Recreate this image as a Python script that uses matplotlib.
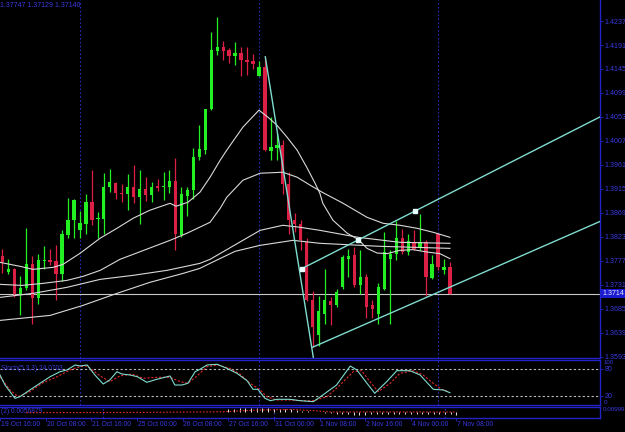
import matplotlib
matplotlib.use('Agg')
import matplotlib.pyplot as plt
import matplotlib.transforms as mtransforms
import numpy as np

plt.rcParams['font.family'] = ['Liberation Sans', 'DejaVu Sans']

# ---------------- data (H4 bars, bar 0 = 19 Oct 20:00) ----------------
opens = [1.37854, 1.37552, 1.37617, 1.37123, 1.37252, 1.37700, 1.37060, 1.37767, 1.37777, 1.37763,
         1.37508, 1.38257, 1.38546, 1.38367, 1.38469, 1.38897, 1.38574, 1.38578, 1.39186, 1.39270,
         1.39070, 1.39059, 1.39186, 1.38993, 1.39155, 1.39040, 1.39205, 1.39193, 1.39186, 1.39301,
         1.38257, 1.39013, 1.39136, 1.39751, 1.39891, 1.40673, 1.41800, 1.41876, 1.41813, 1.41698,
         1.41761, 1.41621, 1.41602, 1.41319, 1.41492, 1.39878, 1.39924, 1.39987, 1.39251, 1.38559,
         1.38482, 1.38129, 1.37008, 1.36335, 1.36752, 1.36995, 1.36912, 1.37264, 1.37810, 1.37873,
         1.37296, 1.37456, 1.36912, 1.36752, 1.37233, 1.37810, 1.37906, 1.38213, 1.37936, 1.38129,
         1.38021, 1.38129, 1.37444, 1.38277, 1.37598, 1.37648]
highs = [1.38002, 1.37810, 1.37637, 1.37469, 1.38405, 1.37854, 1.37892, 1.38046, 1.38002, 1.38079,
         1.38367, 1.38982, 1.38963, 1.38724, 1.39059, 1.39520, 1.38705, 1.39462, 1.39539, 1.39282,
         1.39238, 1.39430, 1.39603, 1.39520, 1.39378, 1.39282, 1.39347, 1.39474, 1.39507, 1.39732,
         1.39186, 1.39186, 1.39935, 1.40372, 1.40673, 1.42165, 1.42453, 1.41992, 1.41846, 1.41961,
         1.41865, 1.41876, 1.41730, 1.41607, 1.41684, 1.40520, 1.40224, 1.40083, 1.39474, 1.38686,
         1.38546, 1.38205, 1.37181, 1.37085, 1.37617, 1.37071, 1.37233, 1.37873, 1.38002, 1.38032,
         1.37969, 1.37521, 1.37008, 1.37335, 1.38321, 1.37969, 1.38532, 1.38386, 1.38290, 1.38353,
         1.38674, 1.38161, 1.37873, 1.38290, 1.37810, 1.37747]
lows = [1.37527, 1.37508, 1.37071, 1.36720, 1.37200, 1.36560, 1.36931, 1.37617, 1.37681, 1.37022,
        1.37379, 1.38213, 1.38213, 1.38213, 1.38290, 1.38450, 1.38213, 1.38277, 1.39090, 1.38963,
        1.38897, 1.38751, 1.38878, 1.38469, 1.38917, 1.38897, 1.39103, 1.38944, 1.39070, 1.37969,
        1.38225, 1.38623, 1.38963, 1.39712, 1.39814, 1.40660, 1.41717, 1.41621, 1.41569, 1.41525,
        1.41313, 1.41332, 1.41442, 1.41313, 1.39872, 1.39699, 1.39699, 1.39045, 1.38277, 1.38321,
        1.37969, 1.36999, 1.36105, 1.36124, 1.36560, 1.36528, 1.36879, 1.37233, 1.37456, 1.37264,
        1.37137, 1.36662, 1.36662, 1.36560, 1.37200, 1.36560, 1.37777, 1.37906, 1.37873, 1.37969,
        1.37969, 1.37085, 1.37425, 1.37585, 1.37521, 1.37129]
closes = [1.37744, 1.37617, 1.37123, 1.37252, 1.37700, 1.37060, 1.37777, 1.37777, 1.37744, 1.37508,
          1.38277, 1.38559, 1.38944, 1.38494, 1.38897, 1.38559, 1.38584, 1.39193, 1.39276, 1.39070,
          1.39051, 1.39186, 1.38993, 1.39155, 1.39040, 1.39186, 1.39174, 1.39199, 1.39301, 1.38277,
          1.39045, 1.39136, 1.39762, 1.39905, 1.40673, 1.41813, 1.41876, 1.41800, 1.41698, 1.41761,
          1.41621, 1.41582, 1.41538, 1.41480, 1.39891, 1.39943, 1.39987, 1.39251, 1.38546, 1.38469,
          1.38161, 1.37008, 1.36489, 1.36802, 1.37008, 1.36912, 1.37168, 1.37840, 1.37854, 1.37296,
          1.37456, 1.36879, 1.36835, 1.37264, 1.37936, 1.37892, 1.38213, 1.37936, 1.38148, 1.38002,
          1.38129, 1.37456, 1.37700, 1.37648, 1.37656, 1.37140]

# moving averages (at sample bars)
ma1_bars = [-0.4, 2.95, 5.13, 8.48, 10.16, 13.0, 16.36, 19.2, 21.9, 24.7, 28.1, 29.1, 31.1, 33.1, 34.8,
            36.5, 37.6, 40.3, 43.0, 44.5, 46.0, 47.7, 49.4, 51.0, 52.4, 53.2, 53.7, 55.4, 57.8, 59.6,
            61.1, 62.8, 64.5, 66.6, 68.8, 71.2, 73.3, 75.0]
ma1_vals = [1.37738, 1.37662, 1.37604, 1.37642, 1.37700, 1.37911, 1.38200, 1.38392, 1.38584, 1.38738,
            1.38872, 1.38815, 1.38892, 1.39084, 1.39372, 1.39699, 1.39891, 1.40333, 1.40660, 1.40525,
            1.40372, 1.40141, 1.39891, 1.39564, 1.39257, 1.39065, 1.38872, 1.38546, 1.38296, 1.38180,
            1.38007, 1.37917, 1.37906, 1.37969, 1.37982, 1.37936, 1.37906, 1.37810]
ma2_bars = [-0.4, 3.28, 6.8, 10.8, 13.5, 16.4, 19.7, 28.1, 30.9, 34.8, 36.5, 37.6, 40.3, 43.2, 47.0,
            49.4, 51.6, 53.6, 57.1, 61.1, 63.8, 66.6, 69.5, 72.2, 75.0]
ma2_vals = [1.37316, 1.37296, 1.37335, 1.37392, 1.37469, 1.37585, 1.37796, 1.38161, 1.38296, 1.38507,
            1.38776, 1.38988, 1.39314, 1.39449, 1.39468, 1.39372, 1.39218, 1.39084, 1.38872, 1.38603,
            1.38488, 1.38450, 1.38392, 1.38315, 1.38219]
ma3_bars = [-0.4, 5.13, 10.8, 16.4, 21.9, 27.6, 33.1, 34.8, 40.3, 43.2, 47.0, 49.9, 53.2, 59.6, 66.6, 75.0]
ma3_vals = [1.37066, 1.37143, 1.37258, 1.37412, 1.37489, 1.37585, 1.37719, 1.37796, 1.38161, 1.38353,
            1.38450, 1.38411, 1.38353, 1.38219, 1.38123, 1.38104]
ma4_bars = [-0.4, 8.0, 13.5, 19.2, 24.7, 30.3, 33.1, 34.8, 39.0, 43.2, 48.7, 53.2, 63.3, 75.0]
ma4_vals = [1.36624, 1.36720, 1.36912, 1.37143, 1.37354, 1.37527, 1.37623, 1.37719, 1.37950, 1.38065,
            1.38161, 1.38104, 1.38046, 1.38007]

# drawn objects (trend lines)
steep_bars = [44.06, 52.1]
steep_prices = [1.41684, 1.35918]
upper_bars = [50.16, 100.2]
upper_prices = [1.37617, 1.40533]
anchor_bars = [50.16, 59.64, 69.15]
anchor_prices = [1.37617, 1.38175, 1.38724]
lower_bars = [52.0, 100.2]
lower_prices = [1.36110, 1.38526]
bid_price = 1.3714

# stochastic
stoch_k_bars = [-0.4, 0.44, 2.1, 2.95, 4.6, 6.3, 8.0, 9.65, 10.8, 12.2, 13.0, 14.2, 15.5, 16.9, 18.0,
                19.2, 20.0, 21.4, 22.6, 24.2, 25.9, 28.1, 28.9, 30.1, 31.1, 32.3, 33.1, 34.3, 36.0,
                37.6, 39.3, 41.0, 42.0, 42.8, 44.0, 44.9, 46.0, 48.2, 49.9, 52.1, 53.7, 56.0, 58.3,
                59.4, 61.1, 62.4, 64.4, 66.1, 68.3, 70.0, 72.2, 73.9, 75.0]
stoch_k = [66.5, 44.0, 14.2, 17.8, 32.8, 47.9, 62.7, 73.9, 77.8, 89.0, 86.7, 89.0, 66.5, 46.3, 55.3,
           73.9, 68.8, 66.5, 62.7, 50.1, 56.9, 64.3, 44.0, 44.0, 47.9, 73.9, 79.3, 89.0, 90.6,
           81.6, 70.3, 53.7, 34.4, 34.4, 14.2, 8.8, 11.9, 11.9, 8.8, 6.5, 21.6, 44.0, 86.7,
           77.8, 47.9, 25.4, 51.5, 76.2, 76.2, 66.5, 34.4, 32.8, 26.7]
stoch_d_bars = [-0.4, 1.3, 2.6, 4.6, 6.8, 9.2, 11.3, 13.0, 14.2, 16.4, 18.0, 19.7, 21.7, 23.6, 25.9,
                28.1, 29.8, 31.1, 32.6, 34.3, 36.0, 38.1, 39.8, 41.5, 43.2, 44.3, 46.0, 48.2, 49.9,
                52.1, 54.4, 56.6, 58.8, 60.2, 61.6, 63.0, 65.0, 66.6, 68.9, 70.5, 72.2, 73.6, 74.7]
stoch_d = [62.7, 32.8, 17.8, 29.0, 49.2, 62.7, 77.8, 85.2, 86.7, 64.3, 51.5, 64.3, 68.8, 59.1, 61.3,
           61.3, 51.5, 47.9, 64.3, 85.2, 89.0, 81.6, 68.8, 47.9, 32.8, 17.8, 10.3, 10.3, 8.8,
           8.8, 17.8, 44.0, 73.9, 76.2, 51.5, 29.0, 47.9, 70.3, 76.2, 66.5, 47.9, 34.4, 29.0]

# oscillator in the bottom strip
osc_hist = [0.0008] * 35 + [0.0060, 0.0066, 0.0070, 0.0072, 0.0072, 0.0071, 0.0070, 0.0068, 0.0066,
            0.0060, 0.0055, 0.0050, 0.0040, 0.0030, 0.0020, 0.0010, 0.0000, -0.0010] + \
           [-0.0020, -0.0028, -0.0034, -0.0038, -0.0040, -0.0040, -0.0040, -0.0038, -0.0036, -0.0035,
            -0.0035, -0.0036, -0.0037, -0.0038, -0.0038, -0.0038, -0.0037, -0.0036, -0.0036, -0.0037,
            -0.0038, -0.0039, -0.0040]
osc_sig_bars = [-0.4, 20.0, 34.0, 40.0, 46.0, 50.0, 53.0, 60.0, 75.0]
osc_sig = [-0.0007, -0.0002, 0.0010, 0.0040, 0.0050, 0.0030, 0.0005, 0.0008, 0.0004]

price_ticks = [1.4237, 1.4191, 1.4145, 1.4099, 1.4053, 1.4007, 1.3961, 1.3915, 1.3869,
               1.3823, 1.3777, 1.3731, 1.3685, 1.3639, 1.3593]
time_label_bars = [-5, 3, 11, 19, 27, 35, 43, 51, 59, 67, 75]
time_labels = ['19 Oct 16:00', '20 Oct 08:00', '21 Oct 16:00', '25 Oct 00:00', '26 Oct 08:00',
               '27 Oct 16:00', '31 Oct 00:00', '1 Nov 08:00', '2 Nov 16:00', '4 Nov 00:00',
               '7 Nov 08:00']
week_sep_bars = [13, 43, 73]

# ---------------- style ----------------
BG = 'black'
BLUE = '#2323c8'
TXT = '#3a3ae0'
BULL = '#22f022'
BEAR = '#dc1f45'
MA_COL = '#d9d9d9'
CH_COL = '#7fdccf'
FS = 5.1

W, H = 625, 432
fig = plt.figure(figsize=(W / 100, H / 100), dpi=100, facecolor=BG)


def rect(x0, y0, x1, y1):
    return [x0 / W, (H - y1) / H, (x1 - x0) / W, (y1 - y0) / H]


ax = fig.add_axes(rect(0, 0, 600, 357.5))
axs = fig.add_axes(rect(0, 360, 600, 404.6))
axm = fig.add_axes(rect(0, 406.7, 600, 418.3))
XL = (-0.40, 100.15)
for a in (ax, axs, axm):
    a.set_facecolor(BG)
    a.set_xlim(*XL)
    for s in a.spines.values():
        s.set_color(BLUE)
        s.set_linewidth(1.0)
    a.spines['left'].set_visible(False)
    a.yaxis.tick_right()
    a.tick_params(axis='y', colors=BLUE, labelcolor=TXT, labelsize=FS, length=2.5, width=0.6, pad=0.6)
    a.tick_params(axis='x', bottom=False, labelbottom=False)
    for b in week_sep_bars:
        a.axvline(b, color='#2b2bb8', ls=(0, (1.5, 2)), lw=0.8, zorder=1)
ax.spines['top'].set_visible(False)

# ---------------- main window ----------------
ax.set_ylim(1.35912, 1.42774)
ax.set_yticks(price_ticks)
ax.set_yticklabels([f'{p:.4f}' for p in price_ticks])

x = np.arange(len(opens))
o = np.array(opens); h = np.array(highs); l = np.array(lows); c = np.array(closes)
cols = np.where(c >= o, BULL, BEAR)
ax.vlines(x, l, h, colors=cols, lw=0.9, zorder=3)
body_lo = np.minimum(o, c)
body_h = np.maximum(np.abs(c - o), 0.00007)
ax.bar(x, body_h, bottom=body_lo, width=0.55, color=cols, linewidth=0, zorder=4)

for bars, vals in ((ma1_bars, ma1_vals), (ma2_bars, ma2_vals), (ma3_bars, ma3_vals), (ma4_bars, ma4_vals)):
    ax.plot(bars, vals, color=MA_COL, lw=0.8, zorder=5)

ax.axhline(bid_price, color='#c8c8c8', lw=0.8, zorder=2)
ax.plot(steep_bars, steep_prices, color=CH_COL, lw=1.0, zorder=6)
ax.plot(upper_bars, upper_prices, color=CH_COL, lw=1.0, zorder=6)
ax.plot(lower_bars, lower_prices, color=CH_COL, lw=1.0, zorder=6)
ax.plot(anchor_bars, anchor_prices, ls='none', marker='s', ms=2.6, color='#e6ffff', zorder=7)

tr = mtransforms.blended_transform_factory(ax.transAxes, ax.transData)
ax.text(1.004, bid_price, f'{bid_price:.4f}', transform=tr, color='#e8e8ff', fontsize=FS,
        va='center', ha='left', clip_on=False, zorder=10,
        bbox=dict(boxstyle='square,pad=0.15', fc='#1a1ad0', ec='none'))

fig.text(0.0, 1 - 5.5 / H, '1.37747 1.37129 1.37140', color=TXT, fontsize=5, va='center', ha='left')

# ---------------- stochastic window ----------------
axs.set_ylim(0, 100.2)
axs.set_yticks([80, 20])
axs.set_yticklabels(['80', '20'])
trs = mtransforms.blended_transform_factory(axs.transAxes, axs.transData)
axs.text(1.006, 93.5, '100', transform=trs, color=TXT, fontsize=4.4, va='center', ha='left', clip_on=False)
axs.text(1.006, 4, '0', transform=trs, color=TXT, fontsize=4.6, va='center', ha='left', clip_on=False)
axs.axhline(80, color='#bdbdbd', ls=(0, (2, 2)), lw=0.8)
axs.axhline(20, color='#bdbdbd', ls=(0, (2, 2)), lw=0.8)
axs.plot(stoch_k_bars, stoch_k, color='#7fdccf', lw=0.8, zorder=4)
axs.plot(stoch_d_bars, stoch_d, color='#e02828', lw=0.8, ls=(0, (2, 1.5)), zorder=3)
axs.text(0.002, 0.80, 'Stoch(5,3,3) 24.0703', transform=axs.transAxes, color=TXT, fontsize=4.8,
         va='center', ha='left')

# ---------------- bottom oscillator strip ----------------
axm.set_ylim(-0.0107, 0.00999)
axm.set_yticks([])
trm = mtransforms.blended_transform_factory(axm.transAxes, axm.transData)
axm.text(1.005, 0.0045, '0.00999', transform=trm, color=TXT, fontsize=4.5, va='center', ha='left', clip_on=False)
axm.vlines(x, 0, osc_hist, colors='#e6e6e6', lw=0.7, zorder=3)
axm.plot(osc_sig_bars, osc_sig, color='#e02828', lw=0.8, ls=(0, (1.5, 1.5)), zorder=4)
axm.text(0.002, 0.55, '(2) 0.0056879', transform=axm.transAxes, color=TXT, fontsize=4.8,
         va='center', ha='left')
axm.set_xticks(time_label_bars)
axm.tick_params(axis='x', bottom=True, length=2, width=0.6, colors=BLUE, labelbottom=False)
trx = mtransforms.blended_transform_factory(axm.transData, axm.transAxes)
for b, t in zip(time_label_bars, time_labels):
    axm.text(b + 0.15, -0.55, t, transform=trx, color=TXT, fontsize=4.9, va='center', ha='left',
             clip_on=False)

fig.savefig('out.png', dpi=100, facecolor=BG)
